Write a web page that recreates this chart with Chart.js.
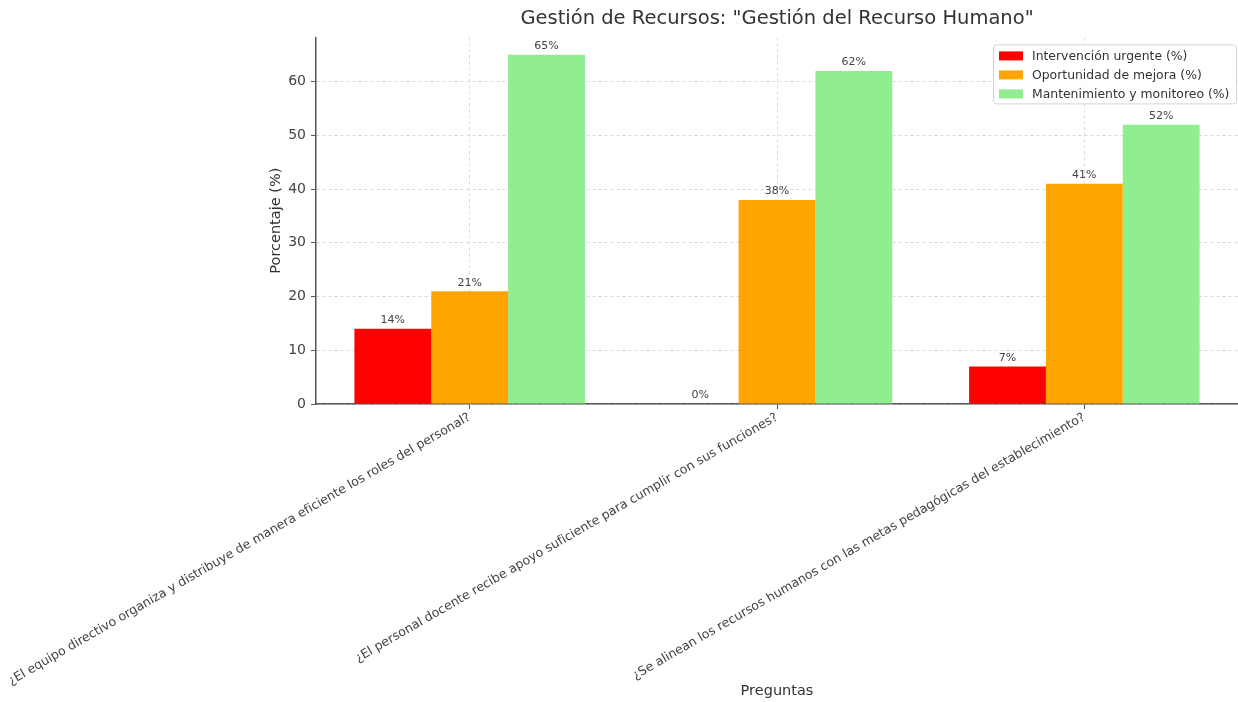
<!DOCTYPE html>
<html lang="es">
<head>
<meta charset="utf-8">
<title>Gestión del Recurso Humano</title>
<script src="https://cdn.jsdelivr.net/npm/chart.js@4.4.1/dist/chart.umd.min.js"></script>
<style>
  html, body { margin: 0; padding: 0; background: #fff; }
  #wrap { width: 1238px; height: 702px; position: relative; }
</style>
</head>
<body>
<div id="wrap"><canvas id="chart"></canvas></div>
<script>
const preguntas = [
  "¿El equipo directivo organiza y distribuye de manera eficiente los roles del personal?",
  "¿El personal docente recibe apoyo suficiente para cumplir con sus funciones?",
  "¿Se alinean los recursos humanos con las metas pedagógicas del establecimiento?"
]
const intervencion = [14, 0, 7]
const oportunidad = [21, 38, 41]
const mantenimiento = [65, 62, 52]

const seriesNames = ["Intervención urgente (%)", "Oportunidad de mejora (%)", "Mantenimiento y monitoreo (%)"]
const seriesColors = ["#ff0000", "#ffa500", "#90ee90"]

const FONT = "'DejaVu Sans', Verdana, sans-serif"
const TEXT = "#444"

// value labels on top of each bar
const barLabels = {
  id: "barLabels",
  afterDatasetsDraw(chart) {
    const ctx = chart.ctx
    ctx.save()
    ctx.font = `11px ${FONT}`
    ctx.fillStyle = TEXT
    ctx.textAlign = "center"
    ctx.textBaseline = "bottom"
    chart.data.datasets.forEach((ds, i) => {
      chart.getDatasetMeta(i).data.forEach((bar, j) => {
        ctx.fillText(`${ds.data[j]}%`, bar.x, bar.y - 3)
      })
    })
    ctx.restore()
  }
}

// boxed legend in the upper right corner of the plot
const boxLegend = {
  id: "boxLegend",
  afterDraw(chart) {
    const ctx = chart.ctx
    const area = chart.chartArea
    const w = 243, h = 59
    const x = area.right - w - 2, y = area.top + 7
    ctx.save()
    ctx.fillStyle = "rgba(255,255,255,0.85)"
    ctx.strokeStyle = "#d3d3d3"
    ctx.lineWidth = 1
    ctx.beginPath()
    ctx.roundRect(x + 0.5, y + 0.5, w, h, 3)
    ctx.fill()
    ctx.stroke()
    ctx.font = `12.4px ${FONT}`
    ctx.textBaseline = "middle"
    ctx.textAlign = "left"
    chart.data.datasets.forEach((ds, i) => {
      const ry = y + 11 + i * 19
      ctx.fillStyle = ds.backgroundColor
      ctx.fillRect(x + 6, ry - 4, 24, 9)
      ctx.fillStyle = "#333"
      ctx.fillText(ds.label, x + 39, ry + 1)
    })
    ctx.restore()
  }
}

new Chart(document.getElementById("chart"), {
  type: "bar",
  data: {
    labels: preguntas,
    datasets: [intervencion, oportunidad, mantenimiento].map((d, i) => ({
      label: seriesNames[i],
      data: d,
      backgroundColor: seriesColors[i],
      borderWidth: 0,
      categoryPercentage: 0.75,
      barPercentage: 1
    }))
  },
  plugins: [barLabels, boxLegend],
  options: {
    responsive: true,
    maintainAspectRatio: false,
    animation: false,
    layout: { padding: { left: 268, right: 0, top: 0, bottom: 0 } },
    plugins: {
      legend: { display: false },
      tooltip: { enabled: false },
      title: {
        display: true,
        fullSize: false,
        text: 'Gestión de Recursos: "Gestión del Recurso Humano"',
        color: "#333",
        font: { family: FONT, size: 19.5, weight: "normal" },
        padding: { top: 7, bottom: 7 }
      }
    },
    scales: {
      x: {
        offset: true,
        // long rotated questions hang out to the left; keep the plot where it is
        afterFit(scale) {
          scale.paddingLeft = 0
          scale.paddingRight = 0
          scale.height = 298
        },
        grid: {
          offset: false,
          color: "#dcdcdc",
          tickColor: "#555",
          tickLength: 5,
          tickBorderDash: []
        },
        border: { color: "#555", width: 1.5, dash: [3, 3] },
        ticks: {
          autoSkip: false,
          minRotation: 30,
          maxRotation: 30,
          color: TEXT,
          padding: 1,
          font: { family: FONT, size: 12.5 }
        },
        title: {
          display: true,
          text: "Preguntas",
          color: "#333",
          font: { family: FONT, size: 14.5 },
          padding: { top: 0, bottom: 2 }
        }
      },
      y: {
        min: 0,
        max: 68.25,
        afterFit(scale) {
          scale.width = 48
        },
        grid: {
          color: "#d8d8d8",
          tickColor: "#555",
          tickLength: 5,
          tickBorderDash: []
        },
        border: { color: "#555", width: 1.5, dash: [3, 3] },
        ticks: {
          stepSize: 10,
          includeBounds: false,
          color: TEXT,
          padding: 5,
          font: { family: FONT, size: 14 }
        },
        title: {
          display: true,
          text: "Porcentaje (%)",
          color: "#333",
          font: { family: FONT, size: 14.5 },
          padding: { top: 0, bottom: 0 }
        }
      }
    }
  }
})
</script>
</body>
</html>
